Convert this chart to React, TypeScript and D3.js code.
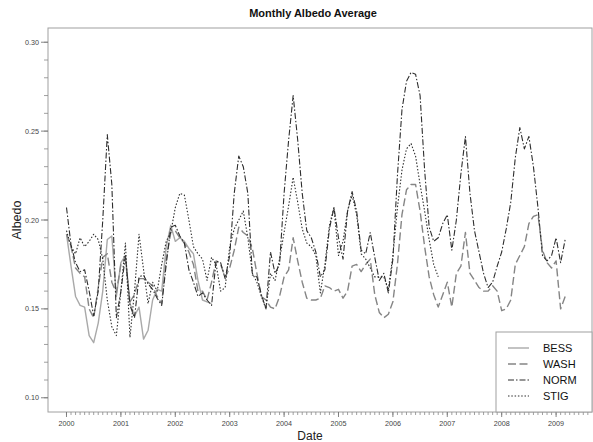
import React from 'react';
import * as d3 from 'd3';

// monthly averages, first value = Jan 2000
const startYear = 2000;
const seriesNames = ['BESS', 'WASH', 'NORM', 'STIG'];

const bessValues = [
  0.192, 0.174, 0.157, 0.152, 0.151, 0.135, 0.131, 0.142, 0.160, 0.189, 0.191, 0.157,
  0.176, 0.180, 0.153, 0.146, 0.151, 0.133, 0.138, 0.155, 0.161, 0.160, 0.185, 0.197,
  0.188, 0.190, 0.188, 0.184, 0.181, 0.166, 0.155, 0.154, 0.153,
];

const washValues = [
  0.192, 0.185, 0.173, 0.170, 0.168, 0.150, 0.145, 0.162, 0.179, 0.181, 0.165, 0.159,
  0.175, 0.178, 0.154, 0.158, 0.167, 0.167, 0.165, 0.163, 0.157, 0.153, 0.178, 0.193,
  0.194, 0.190, 0.187, 0.182, 0.175, 0.160, 0.160, 0.155, 0.165, 0.177, 0.175, 0.168,
  0.173, 0.183, 0.196, 0.193, 0.191, 0.184, 0.170, 0.157, 0.155, 0.151, 0.150, 0.157,
  0.168, 0.172, 0.190, 0.177, 0.165, 0.156, 0.155, 0.155, 0.156, 0.163, 0.162, 0.160,
  0.161, 0.156, 0.160, 0.174, 0.175, 0.171, 0.175, 0.178, 0.158, 0.148, 0.145, 0.147,
  0.154, 0.175, 0.203, 0.217, 0.220, 0.220, 0.205, 0.185, 0.168, 0.158, 0.151, 0.158,
  0.165, 0.151, 0.170, 0.174, 0.193, 0.170, 0.166, 0.162, 0.160, 0.160, 0.163, 0.160,
  0.149, 0.150, 0.155, 0.175, 0.180, 0.185, 0.198, 0.202, 0.203, 0.183, 0.176, 0.173,
  0.177, 0.150, 0.157,
];

const normValues = [
  0.207, 0.186, 0.176, 0.171, 0.172, 0.160, 0.146, 0.160, 0.200, 0.248, 0.220, 0.145,
  0.160, 0.180, 0.152, 0.145, 0.168, 0.169, 0.164, 0.161, 0.156, 0.152, 0.175, 0.196,
  0.197, 0.191, 0.187, 0.172, 0.165, 0.157, 0.159, 0.155, 0.152, 0.177, 0.176, 0.167,
  0.180, 0.215, 0.236, 0.230, 0.215, 0.169, 0.168, 0.158, 0.150, 0.182, 0.170, 0.175,
  0.215, 0.245, 0.270, 0.245, 0.215, 0.194, 0.190, 0.182, 0.168, 0.172, 0.195, 0.207,
  0.190, 0.178, 0.205, 0.216, 0.205, 0.183, 0.181, 0.193, 0.179, 0.166, 0.170, 0.159,
  0.178, 0.225, 0.262, 0.278, 0.283, 0.282, 0.270, 0.228, 0.196, 0.188, 0.190, 0.198,
  0.203, 0.183, 0.200, 0.226, 0.247, 0.215, 0.194, 0.182, 0.170, 0.162, 0.165, 0.174,
  0.182, 0.195, 0.210, 0.235, 0.252, 0.240, 0.247, 0.230, 0.207, 0.180, 0.177, 0.180,
  0.190, 0.176, 0.189,
];

const stigValues = [
  0.194, 0.185, 0.181, 0.190, 0.185, 0.188, 0.192, 0.189, 0.178, 0.155, 0.140, 0.135,
  0.160, 0.187, 0.134, 0.160, 0.192, 0.172, 0.153, 0.165, 0.160, 0.175, 0.188, 0.193,
  0.207, 0.215, 0.214, 0.200, 0.185, 0.181, 0.178, 0.166, 0.179, 0.175, 0.160, 0.162,
  0.185, 0.195, 0.200, 0.205, 0.190, 0.170, 0.165, 0.157, 0.150, 0.170, 0.166, 0.178,
  0.193, 0.208, 0.224, 0.210, 0.195, 0.187, 0.185, 0.180, 0.159, 0.175, 0.197, 0.207,
  0.180, 0.188, 0.205, 0.214, 0.203, 0.181, 0.178, 0.173, 0.168, 0.168, 0.168, 0.161,
  0.180, 0.207, 0.228, 0.240, 0.243, 0.236, 0.220, 0.205, 0.189, 0.175, 0.168,
];

const yearTicks = [2000, 2001, 2002, 2003, 2004, 2005, 2006, 2007, 2008, 2009];
const albedoTicks = [0.10, 0.15, 0.20, 0.25, 0.30];

const styles = {
  BESS: { stroke: '#a9a9a9', dash: null, width: 1.4 },
  WASH: { stroke: '#858585', dash: '8,3.5', width: 1.4 },
  NORM: { stroke: '#2e2e2e', dash: '6,2,1.5,2', width: 1.1 },
  STIG: { stroke: '#2e2e2e', dash: '1.5,1.8', width: 1.1 },
};

export default function App() {
  const width = 593;
  const height = 442;
  const left = 48;
  const right = 592;
  const top = 28;
  const bottom = 412;

  const x = d3.scaleLinear().domain([1999.66, 2009.66]).range([left, right]);
  const y = d3.scaleLinear().domain([0.092, 0.308]).range([bottom, top]);

  const allSeries = [bessValues, washValues, normValues, stigValues];
  const line = d3.line<number>()
    .x((d, i) => x(startYear + i / 12))
    .y(d => y(d));

  const minorY = d3.range(10, 31).map(v => v / 100);
  const minorX = d3.range(0, 12 * 9 + 8).map(m => startYear + m / 12).filter(t => x(t) <= right);

  const legendX = 496;
  const legendY = 332;

  return (
    <svg width={width} height={height} style={{ position: 'absolute', left: 0, top: 0, background: '#fff' }}
      fontFamily="'Liberation Sans', Arial, sans-serif">
      <text x={313} y={17} textAnchor="middle" fontSize={11} fontWeight="bold" fill="#111">Monthly Albedo Average</text>

      {/* plot box */}
      <rect x={left} y={top} width={right - left} height={bottom - top} fill="none" stroke="#a0a0a0" strokeWidth={1} />

      {/* y axis */}
      {minorY.map(v => (
        <line key={'my' + v} x1={left - 4} x2={left} y1={y(v)} y2={y(v)} stroke="#888" strokeWidth={0.8} />
      ))}
      {albedoTicks.map(v => (
        <g key={'y' + v}>
          <line x1={left - 7} x2={left} y1={y(v)} y2={y(v)} stroke="#777" strokeWidth={0.9} />
          <text x={left - 9} y={y(v) + 2.5} textAnchor="end" fontSize={7.2} fill="#444">{v.toFixed(2)}</text>
        </g>
      ))}
      <text transform={`translate(21,${(top + bottom) / 2}) rotate(-90)`} textAnchor="middle" fontSize={12.5} fill="#222">Albedo</text>

      {/* x axis */}
      {minorX.map(t => (
        <line key={'mx' + t} x1={x(t)} x2={x(t)} y1={bottom} y2={bottom + 3} stroke="#888" strokeWidth={0.8} />
      ))}
      {yearTicks.map(t => (
        <g key={'x' + t}>
          <line x1={x(t)} x2={x(t)} y1={bottom} y2={bottom + 5} stroke="#777" strokeWidth={0.9} />
          <text x={x(t)} y={bottom + 14} textAnchor="middle" fontSize={7.2} fill="#444">{t}</text>
        </g>
      ))}
      <text x={310} y={440} textAnchor="middle" fontSize={12} fill="#222">Date</text>

      {/* series */}
      {allSeries.map((vals, k) => {
        const s = styles[seriesNames[k]];
        return (
          <path key={seriesNames[k]} d={line(vals) || ''} fill="none" stroke={s.stroke}
            strokeWidth={s.width} strokeDasharray={s.dash || undefined} strokeLinejoin="round" />
        );
      })}

      {/* legend */}
      <rect x={legendX} y={legendY} width={right - legendX} height={bottom - legendY} fill="#fff" stroke="#a0a0a0" strokeWidth={1} />
      {seriesNames.map((name, k) => {
        const s = styles[name];
        const cy = legendY + 16 + k * 16;
        return (
          <g key={'lg' + name}>
            <line x1={legendX + 12} x2={legendX + 33} y1={cy} y2={cy} stroke={s.stroke}
              strokeWidth={s.width} strokeDasharray={s.dash || undefined} />
            <text x={legendX + 47} y={cy + 4} fontSize={11} fill="#111">{name}</text>
          </g>
        );
      })}
    </svg>
  );
}
